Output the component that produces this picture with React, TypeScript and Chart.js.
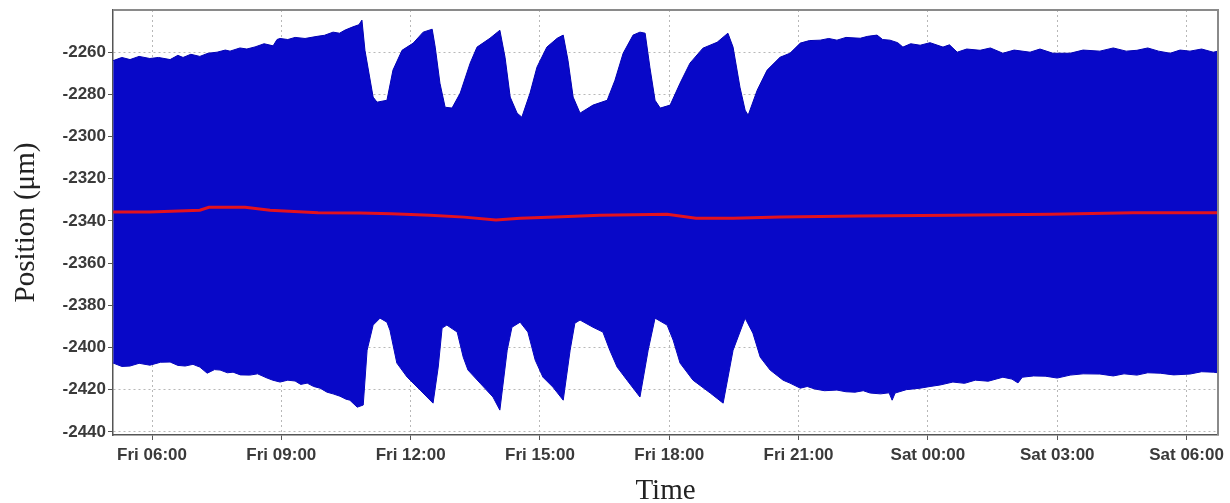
import React, { useEffect, useRef } from "react";
import { Chart, registerables } from "chart.js";

Chart.register(...registerables);

// Time axis in hours counted from Friday 00:00
const xTickHours = [6, 9, 12, 15, 18, 21, 24, 27, 30];
const xTickLabels = ["Fri 06:00", "Fri 09:00", "Fri 12:00", "Fri 15:00", "Fri 18:00", "Fri 21:00", "Sat 00:00", "Sat 03:00", "Sat 06:00"];
const yTickValues = [-2440, -2420, -2400, -2380, -2360, -2340, -2320, -2300, -2280, -2260];

// Upper envelope of the oscillation (µm)
const upperHours = [
  5.10, 5.30, 5.49, 5.70, 5.95, 6.15, 6.42, 6.60, 6.72, 6.90, 7.11, 7.30, 7.51, 7.70, 7.81, 8.04, 8.20, 8.39, 8.60, 8.81,
  8.90, 8.97, 9.15, 9.32, 9.55, 9.83, 10.00, 10.20, 10.35, 10.48, 10.66, 10.80, 10.87,
  10.94, 11.13, 11.22, 11.45, 11.59, 11.80, 12.06, 12.29, 12.50,
  12.57, 12.68, 12.80, 12.96, 13.15, 13.38, 13.54, 13.84, 14.07,
  14.19, 14.31, 14.47, 14.58, 14.77, 14.93, 15.16, 15.40, 15.54,
  15.65, 15.77, 15.93, 16.23, 16.56, 16.74, 16.93, 17.16, 17.32, 17.44,
  17.55, 17.67, 17.79, 18.02, 18.25, 18.48, 18.78, 19.11, 19.36,
  19.48, 19.64, 19.76, 19.83, 20.04, 20.27, 20.57, 20.80,
  21.04, 21.25, 21.50, 21.70, 21.89, 22.10, 22.43, 22.60, 22.82, 22.95, 23.12, 23.30, 23.42, 23.60, 23.82, 24.05,
  24.35, 24.50, 24.68, 24.90, 25.21, 25.45, 25.74, 26.00, 26.37, 26.60, 26.90, 27.30, 27.60, 27.99, 28.30, 28.60,
  28.85, 29.10, 29.35, 29.62, 29.85, 30.08, 30.35, 30.62, 30.73,
];
const upperMicrons = [
  -2264, -2262.5, -2263.5, -2262, -2263, -2262.5, -2263.5, -2261.5, -2262.5, -2261, -2262, -2260.5, -2260, -2259, -2259.5, -2258, -2258.5, -2257.5, -2256, -2257,
  -2254, -2253.5, -2254, -2253, -2253.5, -2252.5, -2252, -2250.5, -2251, -2249.5, -2248, -2247, -2244.8,
  -2259.1, -2281.3, -2283.7, -2282.8, -2268.5, -2259.1, -2255.7, -2250.5, -2249.1,
  -2257.6, -2274.7, -2286.1, -2286.5, -2279.4, -2265.2, -2257.6, -2253.4, -2249.6,
  -2262.4, -2281.3, -2288.9, -2290.8, -2279.4, -2267.1, -2257.6, -2253.4, -2251.9,
  -2263.8, -2281.3, -2288.9, -2285.1, -2282.8, -2273.3, -2260.5, -2251.9, -2250.5, -2251.0,
  -2267.1, -2282.8, -2286.5, -2285.1, -2274.7, -2265.2, -2258.1, -2255.3, -2251.0,
  -2257.6, -2276.6, -2287.5, -2289.9, -2278.0, -2268.5, -2262.4, -2260.5,
  -2255.7, -2254.5, -2254.3, -2253.5, -2254.3, -2253, -2253.4, -2252.5, -2251.9, -2254, -2254.3, -2255.5, -2257.6, -2256, -2256.7, -2255.5,
  -2257.6, -2256.5, -2260, -2258.5, -2259.1, -2258, -2260.5, -2259, -2260, -2258.5, -2260.5, -2260.5, -2259, -2259.5, -2258, -2259.5,
  -2259.1, -2258, -2259.5, -2260.5, -2259, -2259.5, -2258.5, -2260, -2259.5,
];

// Lower envelope of the oscillation (µm)
const lowerHours = [
  5.10, 5.30, 5.49, 5.70, 5.95, 6.20, 6.42, 6.60, 6.77, 6.95, 7.11, 7.28, 7.45, 7.58, 7.75, 7.88, 8.05, 8.27, 8.45, 8.67,
  8.80, 8.97, 9.15, 9.32, 9.45, 9.60, 9.75, 9.90, 10.06, 10.20, 10.36, 10.50, 10.59, 10.76, 10.90,
  10.99, 11.13, 11.29, 11.45, 11.52, 11.68, 11.92, 12.22, 12.52,
  12.64, 12.73, 12.84, 13.08, 13.22, 13.33, 13.61, 13.91, 14.07,
  14.24, 14.35, 14.54, 14.72, 14.89, 15.07, 15.30, 15.54,
  15.70, 15.81, 15.93, 16.23, 16.46, 16.62, 16.79, 17.02, 17.32,
  17.51, 17.67, 17.95, 18.09, 18.25, 18.55, 18.95, 19.25,
  19.48, 19.76, 19.94, 20.11, 20.34, 20.64, 20.80,
  21.04, 21.20, 21.38, 21.60, 21.89, 22.10, 22.31, 22.50, 22.66, 22.90, 23.10, 23.17, 23.24, 23.50, 23.82, 24.05,
  24.28, 24.58, 24.85, 25.10, 25.40, 25.74, 25.95, 26.09, 26.19, 26.45, 26.72, 27.00, 27.30, 27.60, 27.99, 28.30,
  28.55, 28.85, 29.10, 29.39, 29.70, 30.08, 30.35, 30.62, 30.73,
];
const lowerMicrons = [
  -2407.4, -2409, -2408.8, -2407.5, -2408.4, -2407, -2406.9, -2408.5, -2408.8, -2408, -2409.3, -2412.2, -2410.5, -2410.7, -2412, -2411.7, -2413, -2413.1, -2412.5, -2414.5,
  -2415.5, -2416.4, -2415.5, -2415.9, -2417.5, -2416.9, -2418.5, -2419.3, -2421.2, -2422, -2423.1, -2424.5, -2425, -2428.3, -2427.3,
  -2401.3, -2389.4, -2386.1, -2388.0, -2391.8, -2407.4, -2414.1, -2420.2, -2426.4,
  -2409.3, -2390.8, -2389.4, -2392.7, -2404.6, -2410.7, -2416.9, -2423.5, -2429.7,
  -2401.3, -2390.4, -2388.0, -2392.7, -2406.0, -2414.1, -2418.8, -2425.0,
  -2401.3, -2388.5, -2387.0, -2390.4, -2392.7, -2401.3, -2409.3, -2415.5, -2423.5,
  -2401.3, -2386.1, -2389.4, -2396.5, -2407.4, -2415.5, -2421.6, -2426.4,
  -2401.3, -2386.1, -2393.2, -2404.6, -2410.7, -2415.5, -2416.9,
  -2419.3, -2418.5, -2419.7, -2420.5, -2420.2, -2421, -2421.2, -2420.5, -2421.6, -2422, -2421.5, -2425, -2421.6, -2420, -2419.3, -2418.5,
  -2417.8, -2416.4, -2417, -2415.5, -2416, -2414.1, -2415, -2416.8, -2414.1, -2413.5, -2413.6, -2414.5, -2413.1, -2412.5, -2412.6, -2413.5,
  -2412.5, -2413.1, -2412, -2412.2, -2413, -2412.6, -2411.5, -2411.7, -2412,
];

// Mean position (red line)
const meanHours = [5.10, 5.95, 7.11, 7.32, 8.16, 8.74, 9.85, 10.83, 11.55, 12.45, 13.24, 13.98, 14.54, 15.35, 16.39, 17.95, 18.62, 19.48, 20.57, 22.43, 24.54, 26.84, 28.76, 30.73];
const meanMicrons = [-2335.8, -2335.8, -2334.9, -2333.5, -2333.5, -2334.9, -2336.1, -2336.3, -2336.6, -2337.3, -2338.2, -2339.6, -2338.7, -2338.2, -2337.3, -2336.8, -2338.7, -2338.7, -2338.2, -2337.7, -2337.3, -2336.8, -2336.1, -2336.1];

const toPoints = (xs: number[], ys: number[]) => xs.map((x, i) => ({ x, y: ys[i] }));

const framePlugin = {
  id: "frame",
  afterDatasetsDraw(chart: any) {
    const { ctx, chartArea } = chart;
    ctx.save();
    ctx.strokeStyle = "#8a8a8a";
    ctx.lineWidth = 2;
    ctx.beginPath();
    ctx.moveTo(chartArea.left, chartArea.top);
    ctx.lineTo(chartArea.right, chartArea.top);
    ctx.lineTo(chartArea.right, chartArea.bottom);
    ctx.stroke();
    ctx.restore();
  },
};

export default function App() {
  const ref = useRef<HTMLCanvasElement>(null);
  useEffect(() => {
    if (!ref.current) return;
    const blue = "#0808c8";
    const chart = new Chart(ref.current, {
      type: "line",
      data: {
        datasets: [
          {
            label: "mean",
            data: toPoints(meanHours, meanMicrons),
            borderColor: "#e3121e",
            borderWidth: 3,
            pointRadius: 0,
            fill: false,
          },
          {
            label: "upper",
            data: toPoints(upperHours, upperMicrons),
            borderColor: "#0000b4",
            backgroundColor: blue,
            borderWidth: 1,
            pointRadius: 0,
            fill: "+1",
          },
          {
            label: "lower",
            data: toPoints(lowerHours, lowerMicrons),
            borderColor: "#0000b4",
            borderWidth: 1,
            pointRadius: 0,
            fill: false,
          },
        ],
      },
      options: {
        responsive: false,
        animation: false,
        events: [],
        layout: { padding: { top: 10, right: 12, left: 0, bottom: 0 } },
        plugins: { legend: { display: false }, tooltip: { enabled: false } },
        scales: {
          x: {
            type: "linear",
            min: 5.095,
            max: 30.73,
            afterBuildTicks: (scale: any) => {
              scale.ticks = xTickHours.map((v) => ({ value: v }));
            },
            afterFit: (scale: any) => {
              scale.height = 68;
              scale.paddingLeft = 0;
              scale.paddingRight = 0;
            },
            ticks: {
              autoSkip: false,
              maxRotation: 0,
              padding: 5,
              color: "#3a3a3a",
              font: { family: "'Liberation Sans', Arial, sans-serif", size: 17, weight: "bold" },
              callback: (v: any) => {
                const i = xTickHours.indexOf(Number(v));
                return i >= 0 ? xTickLabels[i] : "";
              },
            },
            grid: { color: "#b8b8b8", lineWidth: 1, tickColor: "#555", tickLength: 5, tickBorderDash: [] },
            border: { display: true, color: "#555", width: 1.5, dash: [2, 3] },
            title: {
              display: true,
              text: "Time",
              color: "#222",
              font: { family: "'Liberation Serif', 'Times New Roman', serif", size: 29, lineHeight: 0.8 },
              padding: { top: 0, bottom: 0 },
            },
          },
          y: {
            type: "linear",
            min: -2441.5,
            max: -2240,
            afterBuildTicks: (scale: any) => {
              scale.ticks = yTickValues.map((v) => ({ value: v }));
            },
            afterFit: (scale: any) => {
              scale.width = 113;
              scale.paddingTop = 0;
              scale.paddingBottom = 0;
            },
            ticks: {
              padding: 2,
              color: "#3a3a3a",
              font: { family: "'Liberation Sans', Arial, sans-serif", size: 17, weight: "bold" },
              callback: (v: any) => String(v),
            },
            grid: { color: "#b8b8b8", lineWidth: 1, tickColor: "#555", tickLength: 5, tickBorderDash: [] },
            border: { display: true, color: "#555", width: 1.5, dash: [2, 3] },
            title: {
              display: true,
              text: "Position (μm)",
              color: "#222",
              font: { family: "'Liberation Serif', 'Times New Roman', serif", size: 29, lineHeight: 1.2 },
              padding: { top: 9, bottom: 0 },
            },
          },
        },
      },
      plugins: [framePlugin],
    });
    return () => chart.destroy();
  }, []);

  return (
    <div style={{ position: "absolute", left: 0, top: 0, width: 1230, height: 503, background: "#fff" }}>
      <canvas ref={ref} width={1230} height={503} style={{ display: "block" }} />
    </div>
  );
}
